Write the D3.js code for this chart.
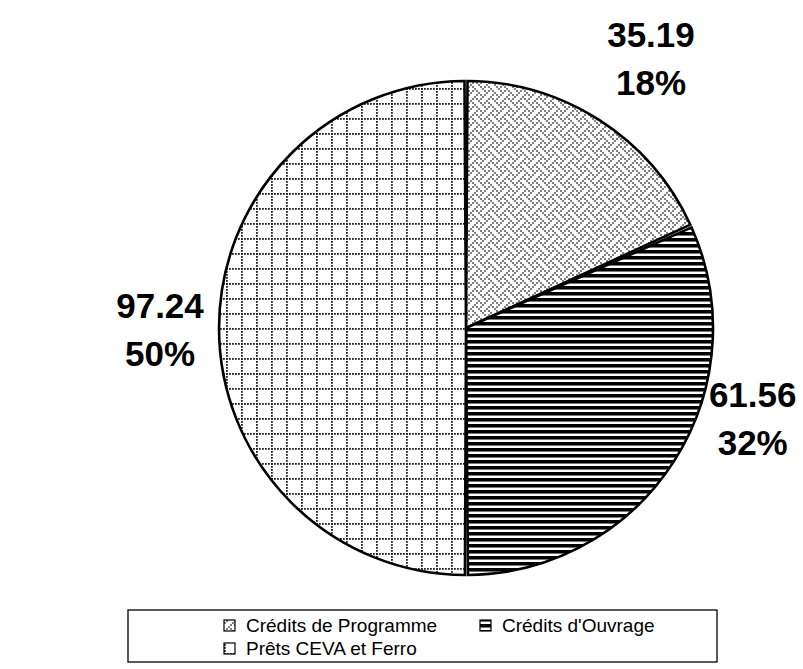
<!DOCTYPE html>
<html>
<head>
<meta charset="utf-8">
<script src="https://cdn.jsdelivr.net/npm/d3@7"></script>
<style>
  body { margin: 0; background: #fff; }
  svg { display: block; font-family: Arial, "Liberation Sans", sans-serif; }
  .lbl { font-weight: bold; font-size: 35px; text-anchor: middle; }
  .leg { font-size: 19px; }
</style>
</head>
<body>
<svg class="chart"></svg>
<script>
// chart data
var categories = ["Crédits de Programme", "Crédits d'Ouvrage", "Prêts CEVA et Ferro"];
var values = [35.19, 61.56, 97.24];
var patterns = ["weave", "hstripe", "dotgrid"];

var width = 803, height = 669;
var cx = 466, cy = 328, radius = 247;

var svg = d3.select(".chart").attr("width", width).attr("height", height);
var defs = svg.append("defs");

// weave pattern (grey chevrons)
var weaveBits = [
	"10001000",
	"01010100",
	"00100010",
	"01000101",
	"10001000",
	"00010101",
	"00100010",
	"01010001"
];
var weave = defs.append("pattern").attr("id", "weave")
	.attr("patternUnits", "userSpaceOnUse").attr("width", 16).attr("height", 16);
weave.append("rect").attr("width", 16).attr("height", 16).attr("fill", "#fff");
weaveBits.forEach(function(row, r) {
	row.split("").forEach(function(b, c) {
		if (b === "1") weave.append("rect").attr("x", c * 2).attr("y", r * 2)
			.attr("width", 2).attr("height", 2).attr("fill", "#808080");
	});
});

// horizontal stripes
var hs = defs.append("pattern").attr("id", "hstripe")
	.attr("patternUnits", "userSpaceOnUse").attr("width", 6).attr("height", 6);
hs.append("rect").attr("width", 6).attr("height", 6).attr("fill", "#fff");
hs.append("rect").attr("y", 0).attr("width", 6).attr("height", 3).attr("fill", "#000");
hs.append("rect").attr("y", 3).attr("width", 6).attr("height", 1).attr("fill", "#777");

// dotted grid
var dg = defs.append("pattern").attr("id", "dotgrid")
	.attr("patternUnits", "userSpaceOnUse").attr("width", 15).attr("height", 15);
dg.append("rect").attr("width", 15).attr("height", 15).attr("fill", "#fff");
for (var k = 0; k < 15; k += 3) {
	dg.append("rect").attr("x", k).attr("y", 0).attr("width", 1.8).attr("height", 1.8).attr("fill", "#222");
	dg.append("rect").attr("x", 0).attr("y", k).attr("width", 1.8).attr("height", 1.8).attr("fill", "#222");
}

var total = d3.sum(values);
var pct = d3.format(".0%");

var pie = d3.pie().sort(null).padAngle(3 / radius);
var arc = d3.arc().innerRadius(0).outerRadius(radius).padRadius(radius);
var labelArc = d3.arc().innerRadius(310).outerRadius(310);

var g = svg.append("g").attr("transform", "translate(" + cx + "," + cy + ")");
var arcs = pie(values);

g.selectAll("path.slice")
	.data(arcs)
	.enter().append("path")
	.attr("class", "slice")
	.attr("d", arc)
	.attr("fill", function(d, i) { return "url(#" + patterns[i] + ")"; })
	.attr("stroke", "#000")
	.attr("stroke-width", 2.6)
	.attr("stroke-linejoin", "miter");

// label nudges (Excel-style placement)
var nudge = [[17, -10], [26, -79], [4, 0]];

var labels = g.selectAll("g.lbl")
	.data(arcs)
	.enter().append("g")
	.attr("transform", function(d, i) {
		var c = labelArc.centroid(d);
		return "translate(" + (c[0] + nudge[i][0]) + "," + (c[1] + nudge[i][1]) + ")";
	});
labels.append("text").attr("class", "lbl").attr("y", -10)
	.text(function(d) { return d3.format(".2f")(d.data); });
labels.append("text").attr("class", "lbl").attr("y", 38)
	.text(function(d) { return pct(d.data / total); });

// legend
var legend = svg.append("g").attr("transform", "translate(128,610)");
legend.append("rect").attr("width", 589).attr("height", 52)
	.attr("fill", "#fff").attr("stroke", "#000").attr("stroke-width", 1.3);

var item = legend.selectAll("g.item")
	.data(categories)
	.enter().append("g")
	.attr("transform", function(d, i) {
		return "translate(" + (i === 1 ? 352 : 96) + "," + (i === 2 ? 43 : 20) + ")";
	});
item.append("rect").attr("x", 0).attr("y", -10).attr("width", 11).attr("height", 11)
	.attr("fill", function(d, i) { return "url(#" + patterns[i] + ")"; })
	.attr("stroke", "#000").attr("stroke-width", 1.2);
item.append("text").attr("class", "leg").attr("x", 22).attr("y", 2).text(function(d) { return d; });
</script>
</body>
</html>
